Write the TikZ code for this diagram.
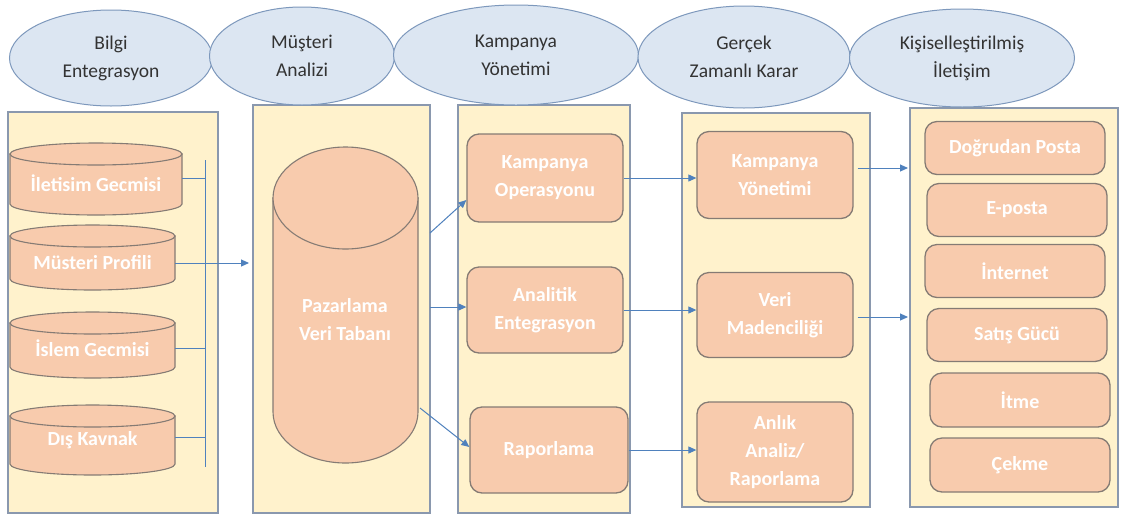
\documentclass[tikz,border=0pt]{standalone}
\usepackage{fontspec}
\setmainfont{Carlito}
\usetikzlibrary{shapes.geometric,arrows.meta,positioning}

\definecolor{ellfill}{HTML}{DCE6F2}
\definecolor{elldraw}{HTML}{7D98BC}
\definecolor{panelfill}{HTML}{FFF2CC}
\definecolor{paneldraw}{HTML}{8A98AE}
\definecolor{boxfill}{HTML}{F8CBAD}
\definecolor{boxdraw}{HTML}{857B74}
\definecolor{arrblue}{HTML}{4F81BD}

\tikzset{
    phase/.style={ellipse, draw=elldraw, fill=ellfill, line width=1pt, inner sep=0pt,
        align=center, text=black!80, font=\fontsize{19.5}{28}\selectfont},
    panel/.style={draw=paneldraw, fill=panelfill, line width=1.3pt},
    stage/.style={rounded corners=12pt, draw=boxdraw, fill=boxfill, line width=1.3pt,
        align=center, text=white, font=\bfseries\fontsize{20}{28}\selectfont},
    dbshape/.style={draw=boxdraw, fill=boxfill, line width=1.1pt},
    dbtext/.style={align=center, text=white, font=\bfseries\fontsize{20}{28}\selectfont},
    link/.style={draw=arrblue, line width=1pt},
    arr/.style={link, -{Triangle[length=8pt,width=7pt]}},
}

\begin{document}
\begin{tikzpicture}[x=1pt,y=-1pt]
    \useasboundingbox[fill=white] (0,0) rectangle (1124,515);

    \draw[panel] (8,112) rectangle (218,513);
    \draw[panel] (253,105) rectangle (430,513);
    \draw[panel] (458,105) rectangle (630,513);
    \draw[panel] (682,113) rectangle (870,507);
    \draw[panel] (910,108) rectangle (1118,507);

    \node[phase, minimum width=203pt, minimum height=96pt] (bilgi) at (111,58) {Bilgi\\Entegrasyon};
    \node[phase, minimum width=185pt, minimum height=98pt] (musteri) at (302,56) {Müşteri\\Analizi};
    \node[phase, minimum width=245pt, minimum height=100pt] (kampanya) at (516,55) {Kampanya\\Yönetimi};
    \node[phase, minimum width=212pt, minimum height=102pt] (gercek) at (744,57) {Gerçek\\Zamanlı Karar};
    \node[phase, minimum width=225pt, minimum height=98pt] (kisisel) at (962,58) {Kişiselleştirilmiş\\İletişim};

    \foreach \n/\yt/\yb/\xr/\ty/\txt in {ilet/154/204/182/183/İletisim Gecmisi,
            musp/236/279/175/263/Müsteri Profili,
            islem/323/367/175/348/İslem Gecmisi,
            dis/416/464/175/440/Dış Kavnak} {
        \draw[dbshape] (10,\yt) -- (10,\yb)
            arc[start angle=180, end angle=0, x radius={(\xr-10)/2}, y radius=11] -- (\xr,\yt) -- cycle;
        \draw[dbshape] ({(\xr+10)/2},\yt) ellipse[x radius={(\xr-10)/2}, y radius=11];
        \node[dbtext] (\n) at ({(\xr+10)/2},\ty) {\txt};
        \coordinate (\n-e) at (\xr,\ty);
    }

    \coordinate (bustop) at (205,160);
    \coordinate (busbot) at (205,467);
    \draw[link] (bustop) -- (busbot);
    \draw[link] (ilet-e |- 0,178) -- (bustop |- 0,178);
    \draw[link] (islem-e) -- (islem-e -| bustop);
    \draw[link] (dis-e |- 0,437) -- (bustop |- 0,437);
    \coordinate (pvt-in) at (249,263);
    \draw[arr] (musp-e) -- (pvt-in);

    \draw[dbshape] (273,198) -- (273,412)
        arc[start angle=180, end angle=0, x radius=72.5, y radius=51] -- (418,198) -- cycle;
    \draw[dbshape] (345.5,198) ellipse[x radius=72.5, y radius=51];
    \node[dbtext] (pvt) at (345,320) {Pazarlama\\Veri Tabanı};
    \coordinate (pvt-o1) at (430,233);
    \coordinate (pvt-o2) at (430,307);
    \coordinate (pvt-o3) at (420,408);

    \node[stage, minimum width=156pt, minimum height=88pt] (kop) at (545,178) {Kampanya\\Operasyonu};
    \node[stage, minimum width=156pt, minimum height=86pt] (anent) at (545,310) {Analitik\\Entegrasyon};
    \node[stage, minimum width=158pt, minimum height=86pt] (rap) at (549,450) {Raporlama};

    \node[stage, minimum width=156pt, minimum height=87pt] (kyon) at (775,175) {Kampanya\\Yönetimi};
    \node[stage, minimum width=156pt, minimum height=85pt] (vmad) at (775,315) {Veri\\Madenciliği};
    \node[stage, minimum width=156pt, minimum height=100pt] (anlik) at (775,452) {Anlık\\Analiz/\\Raporlama};

    \node[stage, minimum width=180pt, minimum height=53pt] (dpos) at (1015,148) {Doğrudan Posta};
    \node[stage, minimum width=180pt, minimum height=53pt] (epos) at (1017,210) {E-posta};
    \node[stage, minimum width=180pt, minimum height=53pt] (inet) at (1015,271) {İnternet};
    \node[stage, minimum width=180pt, minimum height=53pt] (satis) at (1017,335) {Satış Gücü};
    \node[stage, minimum width=180pt, minimum height=54pt] (itme) at (1020,400) {İtme};
    \node[stage, minimum width=180pt, minimum height=54pt] (cekme) at (1020,465) {Çekme};

    \draw[arr] (pvt-o1) -- ([yshift=-22pt]kop.west);
    \draw[arr] (pvt-o2) -- (pvt-o2 -| anent.west);
    \draw[arr] (pvt-o3) -- ([yshift=3pt]rap.west);

    \draw[arr] (kop.east) -- (kop.east -| kyon.west);
    \draw[arr] (anent.east) -- (anent.east -| vmad.west);
    \draw[arr] (rap.east) -- (rap.east -| anlik.west);

    \coordinate (ch-in1) at (908,168);
    \coordinate (ch-in2) at (908,317);
    \draw[arr] ([xshift=4pt]kyon.east |- ch-in1) -- (ch-in1);
    \draw[arr] ([xshift=4pt]vmad.east |- ch-in2) -- (ch-in2);
\end{tikzpicture}
\end{document}
